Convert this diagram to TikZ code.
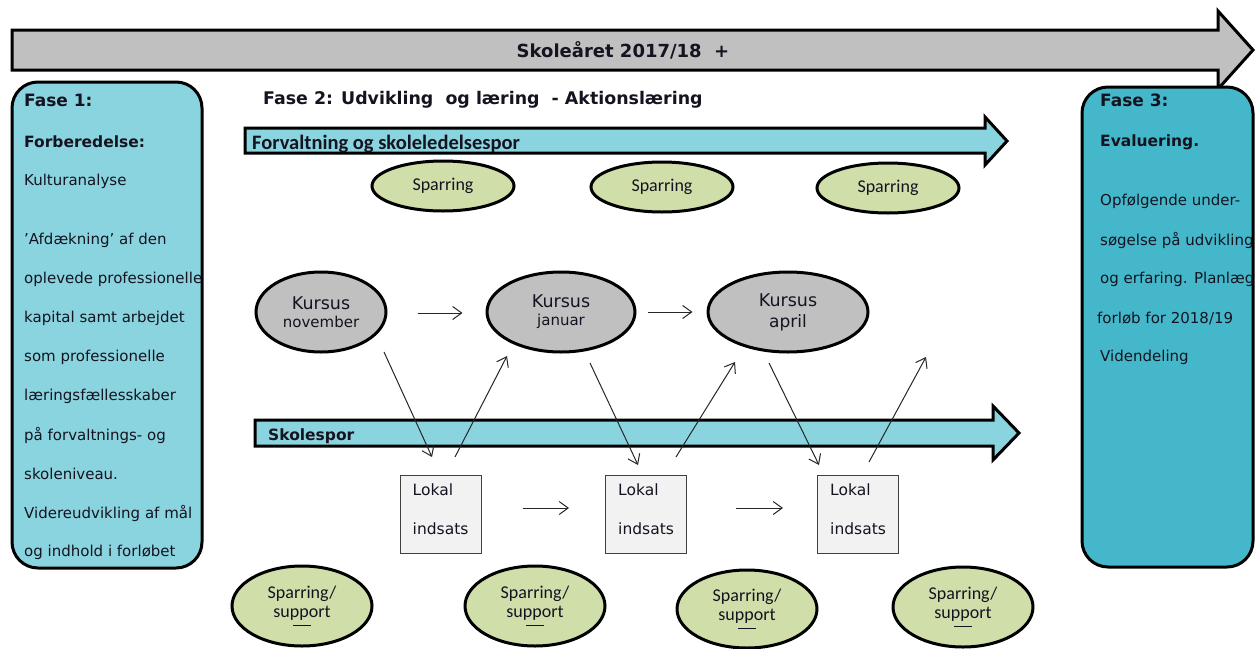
\documentclass[tikz,border=0pt]{standalone}
\usepackage{fontspec}
\setmainfont{DejaVu Sans}
\newfontfamily\calib{Carlito}
\usetikzlibrary{arrows.meta,shapes.geometric,calc}
\definecolor{arrgray}{HTML}{C0C0C0}
\definecolor{lcyan}{HTML}{8AD4DF}
\definecolor{dcyan}{HTML}{44B8CA}
\definecolor{sgreen}{HTML}{D0DEAA}
\definecolor{boxgray}{HTML}{F2F2F2}
\definecolor{txt}{HTML}{141420}
\begin{document}
\begin{tikzpicture}[x=1pt,y=-1pt,
  blockarrow/.style={draw=black,line width=3pt,line join=miter},
  phasebox/.style={draw=black,line width=3pt,rounded corners=26pt},
  lbl/.style={anchor=west,inner sep=0,text=txt,font=\fontsize{15}{17}\selectfont},
  blbl/.style={lbl,font=\fontsize{15.5}{17}\selectfont\bfseries},
  hlbl/.style={lbl,font=\fontsize{17}{19}\selectfont\bfseries},
  kursus/.style={ellipse,draw=black,line width=3pt,fill=arrgray,inner sep=0,minimum height=80pt,align=center,text=txt,font=\fontsize{17.5}{18}\selectfont},
  spar/.style={ellipse,draw=black,line width=3pt,fill=sgreen,inner sep=0,align=center,text=txt,font=\calib\fontsize{18}{19}\selectfont},
  lokal/.style={draw=black!75,line width=1pt,fill=boxgray,minimum width=81pt,minimum height=78pt,inner sep=0},
  conn/.style={-{Straight Barb[length=9pt,width=13pt]},line width=1pt,draw=black!85},
]
\useasboundingbox (0,0) rectangle (1255,648);

% top arrow
\draw[blockarrow,fill=arrgray] (12,30) -- (1218,30) -- (1218,11) -- (1253,50) -- (1218,89) -- (1218,70) -- (12,70) -- cycle;
\node[inner sep=0,text=txt,font=\fontsize{18}{19}\selectfont\bfseries] (year) at (623,50) {Skoleåret 2017/18~~+};

% phase boxes
\draw[phasebox,fill=lcyan] (12,82) rectangle (202,568);
\draw[phasebox,fill=dcyan] (1082,87) rectangle (1253,567);

% Fase 1 text
\node[hlbl] (f1a) at (24,100) {Fase 1:};
\node[blbl] (f1b) at (24,142) {Forberedelse:};
\node[lbl] (f1c) at (24,181) {Kulturanalyse};
\node[lbl] (f1d) at (24,240) {’Afdækning’ af den};
\node[lbl] (f1e) at (24,279) {oplevede professionelle};
\node[lbl] (f1f) at (24,318) {kapital samt arbejdet};
\node[lbl] (f1g) at (24,357) {som professionelle};
\node[lbl] (f1h) at (24,396) {læringsfællesskaber};
\node[lbl] (f1i) at (24,435) {på forvaltnings- og};
\node[lbl] (f1j) at (24,474) {skoleniveau.};
\node[lbl] (f1k) at (24,513) {Videreudvikling af mål};
\node[lbl] (f1l) at (24,552) {og indhold i forløbet};

% Fase 3 text
\node[hlbl] (f3a) at (1100,100) {Fase 3:};
\node[blbl] (f3b) at (1100,142) {Evaluering.};
\node[lbl] (f3c) at (1100,201) {Opfølgende under-};
\node[lbl] (f3d) at (1100,240) {søgelse på udvikling};
\node[lbl] (f3e) at (1100,279) {og erfaring. Planlæg};
\node[lbl] (f3f) at (1097,318) {forløb for 2018/19};
\node[lbl] (f3g) at (1100,357) {Videndeling};

% Fase 2 title
\node[hlbl,font=\fontsize{17.4}{19}\selectfont\bfseries] (f2) at (263,100) {Fase 2: Udvikling~~og læring~~- Aktionslæring};

% Forvaltning arrow
\draw[blockarrow,fill=lcyan] (245,128) -- (985,128) -- (985,117) -- (1007,141) -- (985,165) -- (985,153) -- (245,153) -- cycle;
\node[anchor=base west,inner sep=0,text=txt,font=\calib\fontsize{20.5}{22}\selectfont\bfseries] (forv) at (252,149) {Forvaltning og skoleledelsespor};

% Skolespor arrow
\draw[blockarrow,fill=lcyan] (255,420) -- (993,420) -- (993,406) -- (1019,433) -- (993,460) -- (993,446) -- (255,446) -- cycle;
\node[anchor=base west,inner sep=0,text=txt,font=\fontsize{15.5}{17}\selectfont\bfseries] (skole) at (268,440) {Skolespor};

% top sparring
\node[spar,minimum width=142pt,minimum height=50pt] (s1) at (443,186) {Sparring};
\node[spar,minimum width=142pt,minimum height=50pt] (s2) at (662,187) {Sparring};
\node[spar,minimum width=142pt,minimum height=50pt] (s3) at (888,188) {Sparring};

% Kursus
\node[kursus,minimum width=130pt] (k1) at (321,312) {Kursus\\\fontsize{15}{18}\selectfont november};
\node[kursus,minimum width=148pt] (k2) at (561,312) {Kursus\\\fontsize{15}{18}\selectfont januar};
\node[kursus,minimum width=160pt] (k3) at (788,312) {Kursus\\[3pt]\fontsize{17}{18}\selectfont april};

% Lokal boxes
\node[lokal] (l1) at (440.5,514) {};
\node[lokal] (l2) at (646,514) {};
\node[lokal] (l3) at (858,514) {};
\foreach \b in {l1,l2,l3}{
  \node[lbl,font=\fontsize{15.5}{17}\selectfont] at ($(\b.west)+(13,-24)$) {Lokal};
  \node[lbl,font=\fontsize{15.5}{17}\selectfont] at ($(\b.west)+(13,15)$) {indsats};
}

% bottom sparring/support
\node[spar,minimum width=140pt,minimum height=80pt] (b1) at (302,606) {Sparring/\\support\\[-10pt]\rule{18pt}{0.8pt}};
\node[spar,minimum width=140pt,minimum height=80pt] (b2) at (535,606) {Sparring/\\support\\[-10pt]\rule{18pt}{0.8pt}};
\node[spar,minimum width=140pt,minimum height=78pt] (b3) at (747,609) {Sparring/\\support\\[-10pt]\rule{18pt}{0.8pt}};
\node[spar,minimum width=140pt,minimum height=80pt] (b4) at (963,607) {Sparring/\\support\\[-10pt]\rule{18pt}{0.8pt}};

% connectors
\draw[conn] ($(k1.east)+(30,1)$) -- ($(k2.west)+(-23,1)$);
\draw[conn] ($(k2.east)+(11,0)$) -- ($(k3.west)+(-14,0)$);
\draw[conn] ($(l1.east)+(41,-6)$) -- ($(l2.west)+(-36,-6)$);
\draw[conn] ($(l2.east)+(49,-6)$) -- ($(l3.west)+(-34,-6)$);

\coordinate (c4) at (926,357);
\draw[conn] ($(k1.center)+(63,40)$) -- ($(l1.center)+(-8.5,-57)$);
\draw[conn] ($(l1.center)+(14.5,-57)$) -- ($(k2.center)+(-54,44)$);
\draw[conn] ($(k2.center)+(29,51)$) -- ($(l2.center)+(-8,-49)$);
\draw[conn] ($(l2.center)+(30,-57)$) -- ($(k3.center)+(-53,50)$);
\draw[conn] ($(k3.center)+(-19,51)$) -- ($(l3.center)+(-39,-49)$);
\draw[conn] ($(l3.center)+(11,-52)$) -- (c4);
\end{tikzpicture}
\end{document}
